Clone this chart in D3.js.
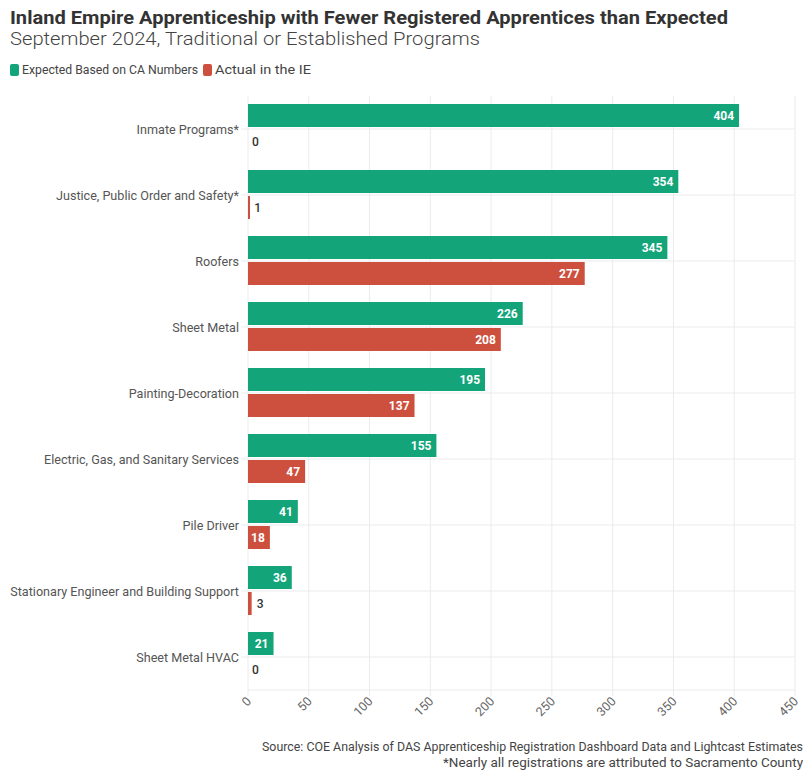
<!DOCTYPE html>
<html><head><meta charset="utf-8">
<script src="https://cdn.jsdelivr.net/npm/d3@7"></script>
<style>
body{margin:0;background:#fff;}
svg text{font-family:"Roboto","Noto Sans",sans-serif;}
</style></head>
<body><svg id="c" width="803" height="773"></svg>
<script>
const categories = ["Inmate Programs*","Justice, Public Order and Safety*","Roofers","Sheet Metal","Painting-Decoration","Electric, Gas, and Sanitary Services","Pile Driver","Stationary Engineer and Building Support","Sheet Metal HVAC"];
const expected = [404,354,345,226,195,155,41,36,21];
const actual = [0,1,277,208,137,47,18,3,0];
const seriesNames = ["Expected Based on CA Numbers","Actual in the IE"];
const xTicks = [0,50,100,150,200,250,300,350,400,450];
const colors = ["#13a47a","#cd503e"];

(function(){
const svg = d3.select("#c");
const pL = 248, pR = 795, pT = 96, pB = 690;
const x = d3.scaleLinear().domain([0,450]).range([pL,pR]);
const y = d3.scaleBand().domain(categories).range([pT,pB]);

svg.append("text").attr("x",10).attr("y",24).attr("font-size",19).attr("font-weight",700).attr("fill","#333")
  .attr("textLength",718).attr("lengthAdjust","spacingAndGlyphs")
  .text("Inland Empire Apprenticeship with Fewer Registered Apprentices than Expected");
svg.append("text").attr("x",10).attr("y",45).attr("font-size",19).attr("font-weight",300).attr("fill","#444")
  .attr("textLength",470).attr("lengthAdjust","spacingAndGlyphs")
  .text("September 2024, Traditional or Established Programs");

const legX = [10,203];
seriesNames.forEach((n,i)=>{
  svg.append("rect").attr("x",legX[i]).attr("y",64).attr("width",9).attr("height",12).attr("rx",2).attr("fill",colors[i]);
  svg.append("text").attr("x",legX[i]+12).attr("y",74).attr("font-size",12).attr("fill","#444")
    .attr("textLength", i==0?176:96).attr("lengthAdjust","spacingAndGlyphs").text(n);
});

svg.append("g").selectAll("line").data(xTicks).join("line")
  .attr("x1",d=>x(d)).attr("x2",d=>x(d)).attr("y1",pT).attr("y2",pB+6)
  .attr("stroke","#ebebeb").attr("stroke-width",1);
svg.append("g").selectAll("line").data(categories).join("line")
  .attr("x1",pL-7).attr("x2",pR).attr("y1",d=>y(d)+y.bandwidth()/2).attr("y2",d=>y(d)+y.bandwidth()/2)
  .attr("stroke","#ebebeb");
svg.append("line").attr("x1",pL).attr("x2",pR).attr("y1",pB).attr("y2",pB).attr("stroke","#ebebeb");

svg.append("g").selectAll("text").data(categories).join("text")
  .attr("x",pL-9).attr("y",d=>y(d)+y.bandwidth()/2+4.5).attr("text-anchor","end")
  .attr("font-size",12.6).attr("fill","#555").text(d=>d);

svg.append("g").selectAll("text").data(xTicks).join("text")
  .attr("transform",d=>`translate(${x(d)+4},${pB+12}) rotate(-45)`)
  .attr("text-anchor","end").attr("font-size",12.5).attr("fill","#666").text(d=>d);

const mid = d=>y(d)+y.bandwidth()/2;
const data = [];
categories.forEach((c,i)=>{
  data.push({c,v:expected[i],s:0,y0:mid(c)-25});
  data.push({c,v:actual[i],s:1,y0:mid(c)+1});
});
svg.append("g").selectAll("rect").data(data.filter(d=>d.v>0)).join("rect")
  .attr("x",pL).attr("y",d=>d.y0).attr("height",23)
  .attr("width",d=>Math.max(2,x(d.v)-pL)).attr("fill",d=>colors[d.s]);
svg.append("g").selectAll("text").data(data).join("text")
  .each(function(d){
    const w = x(d.v)-pL;
    const t = d3.select(this).attr("y",d.y0+16).attr("font-size",12).text(d.v);
    if(w>20){
      t.attr("x",x(d.v)-5).attr("text-anchor","end").attr("fill","#fff").attr("font-weight",700);
    } else {
      t.attr("x",x(d.v)+(d.v>0?5:4)).attr("text-anchor","start").attr("fill","#333").attr("font-weight",500);
    }
  });

svg.append("text").attr("x",803).attr("y",751).attr("text-anchor","end").attr("font-size",12).attr("fill","#444")
  .attr("textLength",541).attr("lengthAdjust","spacingAndGlyphs")
  .text("Source: COE Analysis of DAS Apprenticeship Registration Dashboard Data and Lightcast Estimates");
svg.append("text").attr("x",803).attr("y",767).attr("text-anchor","end").attr("font-size",12).attr("fill","#444")
  .attr("textLength",360).attr("lengthAdjust","spacingAndGlyphs")
  .text("*Nearly all registrations are attributed to Sacramento County");
})();
</script></body></html>
